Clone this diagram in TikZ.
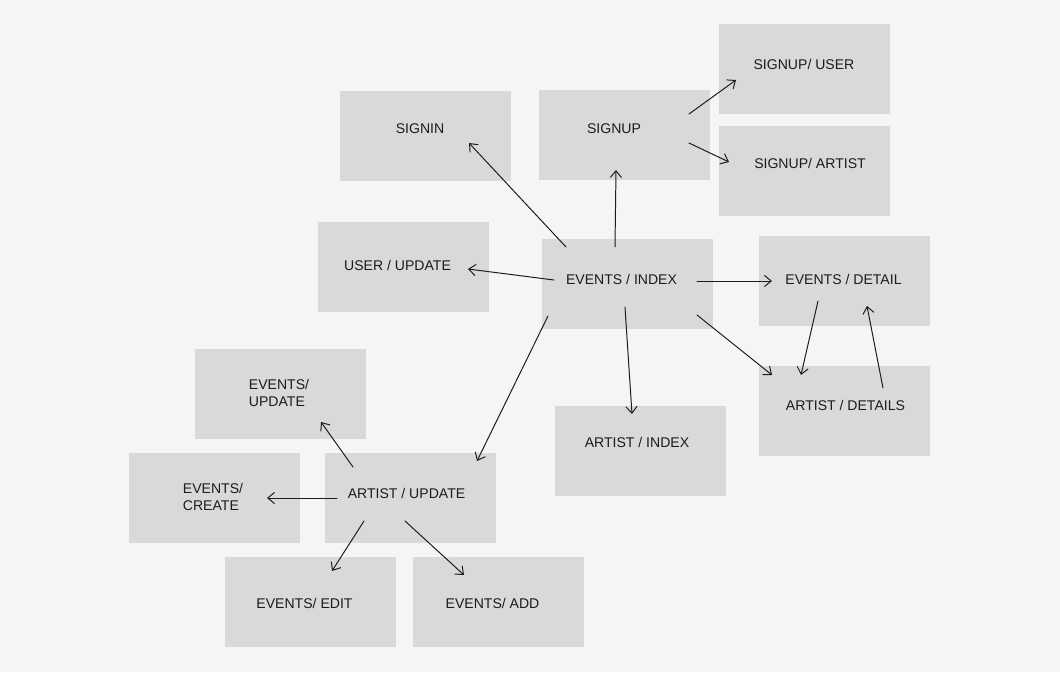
\documentclass[tikz,border=0pt]{standalone}
\usepackage{fontspec}
\setmainfont{Liberation Sans}
\usetikzlibrary{arrows.meta}
\definecolor{pagegray}{RGB}{245,245,245}
\definecolor{boxgray}{RGB}{217,217,217}
\definecolor{inkgray}{RGB}{28,28,28}
\tikzset{
  screen/.style={fill=boxgray, minimum width=171*0.025cm, minimum height=90*0.025cm, inner sep=0pt},
  lbl/.style={text=inkgray, font=\fontsize{10}{12}\selectfont, inner sep=0pt, align=left},
  link/.style={draw=inkgray, line width=0.7pt, -{Straight Barb[length=1.7mm,width=2.8mm]}}
}
\begin{document}
\begin{tikzpicture}[x=0.025cm, y=-0.025cm, line join=round, line cap=round]
\fill[pagegray] (0,0) rectangle (1060,672);
\useasboundingbox (0,0) rectangle (1060,672);
% screens: name / box centre / text centre / text
\foreach \n/\b/\t/\s in {
  signin/{425,135.5}/{420,129}/{SIGNIN},
  signup/{624.5,134.5}/{614,129}/{SIGNUP},
  supuser/{804.5,69}/{804,64}/{SIGNUP/ USER},
  supartist/{804.5,170.5}/{810,163}/{SIGNUP/ ARTIST},
  usrupd/{403,266.5}/{397.5,265}/{USER / UPDATE},
  evindex/{627.5,284}/{621.5,279}/{EVENTS / INDEX},
  evdetail/{844.5,281}/{843.5,279}/{EVENTS / DETAIL},
  ardetails/{844.5,410.5}/{845.5,405}/{ARTIST / DETAILS},
  arindex/{640,451}/{637,442}/{ARTIST / INDEX},
  evupdate/{280.5,394}/{279,393}/{EVENTS/\\UPDATE},
  evcreate/{214.5,498}/{213,497}/{EVENTS/\\CREATE},
  arupdate/{410.5,498}/{406.5,493}/{ARTIST / UPDATE},
  evedit/{310.5,602}/{304.5,603}/{EVENTS/ EDIT},
  evadd/{498,602}/{492.5,603}/{EVENTS/ ADD}}
{
  \node[screen] (\n) at (\b) {};
  \node[lbl] (\n-t) at (\t) {\s};
}
% links between screens
\foreach \a/\sa/\c/\sc in {
  evindex/{-61.5,-37}/signin/{44,7.5},
  evindex/{-12.5,-37}/signup/{-8.5,35.5},
  signup/{64.5,-20.5}/supuser/{-68.5,11},
  signup/{64.5,8.5}/supartist/{-75.5,-8.5},
  evindex/{-73.5,-4}/usrupd/{65,2.5},
  evindex/{69.5,-3}/evdetail/{-72.5,0},
  evindex/{69.5,31}/ardetails/{-72.5,-35.5},
  evindex/{-2.5,23}/arindex/{-8,-37},
  evdetail/{-26.5,20}/ardetails/{-43.5,-35.5},
  ardetails/{38.5,-22.5}/evdetail/{22.5,25},
  evindex/{-79.5,32}/arupdate/{66.5,-37},
  arupdate/{-57.5,-31}/evupdate/{40.5,28},
  arupdate/{-73.5,0}/evcreate/{52.5,0},
  arupdate/{-46.5,23}/evedit/{21.5,-31},
  arupdate/{-5.5,23}/evadd/{-34,-27}}
\draw[link] ([shift={(\sa)}]\a.center) -- ([shift={(\sc)}]\c.center);
\end{tikzpicture}
\end{document}
